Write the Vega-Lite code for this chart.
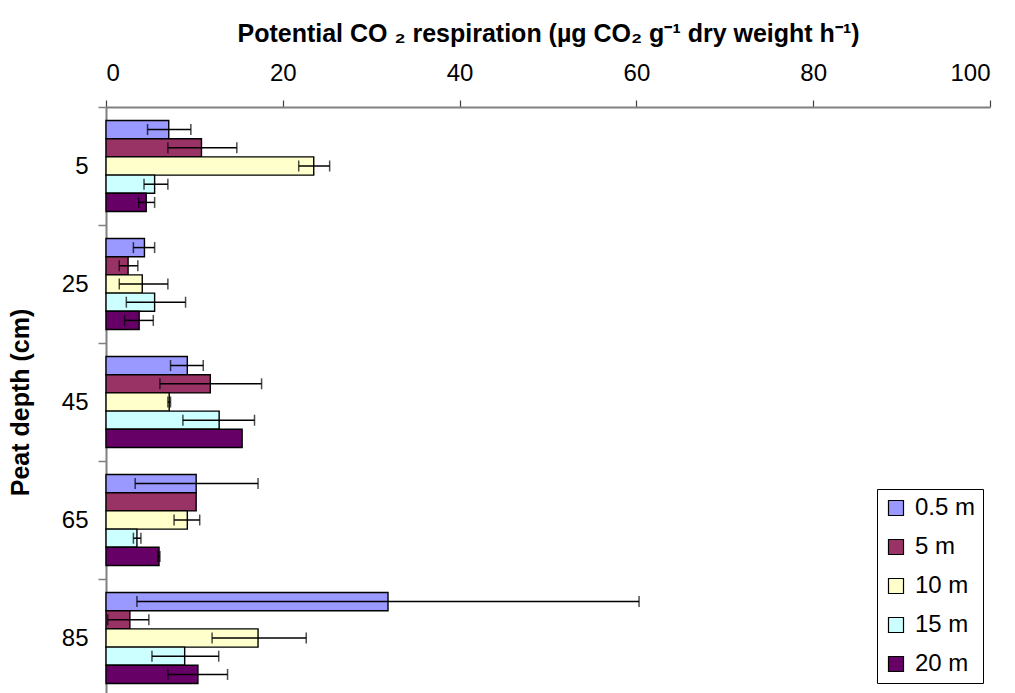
{
  "$schema": "https://vega.github.io/schema/vega-lite/v6.json",
  "autosize": "none",
  "width": 884,
  "height": 590,
  "padding": {"left": 106, "top": 107, "right": 25, "bottom": 0},
  "background": "white",
  "config": {
    "font": "Liberation Sans",
    "view": {"stroke": null},
    "axis": {"grid": false}
  },
  "data": {
    "values": [
      {"depth": "5", "dist": "0.5 m", "value": 7.1, "lo": 4.7, "hi": 9.6},
      {"depth": "5", "dist": "5 m", "value": 10.8, "lo": 7.0, "hi": 14.8},
      {"depth": "5", "dist": "10 m", "value": 23.5, "lo": 21.8, "hi": 25.3},
      {"depth": "5", "dist": "15 m", "value": 5.5, "lo": 4.3, "hi": 7.0},
      {"depth": "5", "dist": "20 m", "value": 4.55, "lo": 3.7, "hi": 5.5},
      {"depth": "25", "dist": "0.5 m", "value": 4.35, "lo": 3.1, "hi": 5.5},
      {"depth": "25", "dist": "5 m", "value": 2.5, "lo": 1.5, "hi": 3.6},
      {"depth": "25", "dist": "10 m", "value": 4.1, "lo": 1.5, "hi": 7.0},
      {"depth": "25", "dist": "15 m", "value": 5.5, "lo": 2.3, "hi": 9.0},
      {"depth": "25", "dist": "20 m", "value": 3.75, "lo": 2.1, "hi": 5.35},
      {"depth": "45", "dist": "0.5 m", "value": 9.2, "lo": 7.3, "hi": 11.0},
      {"depth": "45", "dist": "5 m", "value": 11.8, "lo": 6.1, "hi": 17.6},
      {"depth": "45", "dist": "10 m", "value": 7.15, "lo": 7.0, "hi": 7.3},
      {"depth": "45", "dist": "15 m", "value": 12.8, "lo": 8.7, "hi": 16.8},
      {"depth": "45", "dist": "20 m", "value": 15.4, "lo": null, "hi": null},
      {"depth": "65", "dist": "0.5 m", "value": 10.2, "lo": 3.3, "hi": 17.2},
      {"depth": "65", "dist": "5 m", "value": 10.2, "lo": null, "hi": null},
      {"depth": "65", "dist": "10 m", "value": 9.2, "lo": 7.7, "hi": 10.6},
      {"depth": "65", "dist": "15 m", "value": 3.5, "lo": 3.1, "hi": 3.95},
      {"depth": "65", "dist": "20 m", "value": 6.0, "lo": 5.85, "hi": 6.1},
      {"depth": "85", "dist": "0.5 m", "value": 31.9, "lo": 3.5, "hi": 60.3},
      {"depth": "85", "dist": "5 m", "value": 2.7, "lo": 0.2, "hi": 4.85},
      {"depth": "85", "dist": "10 m", "value": 17.2, "lo": 12.0, "hi": 22.65},
      {"depth": "85", "dist": "15 m", "value": 8.9, "lo": 5.2, "hi": 12.75},
      {"depth": "85", "dist": "20 m", "value": 10.4, "lo": 7.0, "hi": 13.75}
    ]
  },
  "encoding": {
    "y": {
      "field": "depth", "type": "nominal",
      "scale": {"domain": ["5", "25", "45", "65", "85"], "paddingInner": 0, "paddingOuter": 0},
      "axis": {
        "title": "Peat depth (cm)",
        "titleFontSize": 25, "titleFontWeight": "bold", "titleColor": "black",
        "titlePadding": 28,
        "labelFontSize": 24, "labelColor": "black", "labelPadding": 10,
        "tickBand": "extent", "tickSize": 8, "tickColor": "#808080", "tickWidth": 1.5,
        "domainColor": "#808080", "domainWidth": 2,
        "labelAngle": 0
      }
    },
    "yOffset": {
      "field": "dist", "type": "nominal",
      "scale": {"domain": ["0.5 m", "5 m", "10 m", "15 m", "20 m"], "paddingInner": 0, "paddingOuter": 0.74}
    }
  },
  "layer": [
    {
      "mark": {"type": "bar", "stroke": "black", "strokeWidth": 1.4},
      "encoding": {
        "x": {
          "field": "value", "type": "quantitative",
          "scale": {"domain": [0, 100], "nice": false},
          "axis": {
            "orient": "top",
            "values": [0, 20, 40, 60, 80, 100],
            "title": "Potential CO ₂ respiration (µg CO₂ g⁻¹ dry weight h⁻¹)",
            "titleFontSize": 25, "titleFontWeight": "bold", "titleColor": "black",
            "titlePadding": 15,
            "labelFontSize": 24, "labelColor": "black", "labelPadding": 15,
            "tickSize": 7, "tickColor": "#404040", "tickWidth": 1.2,
            "domainColor": "#808080", "domainWidth": 2
          }
        },
        "color": {
          "field": "dist", "type": "nominal",
          "scale": {
            "domain": ["0.5 m", "5 m", "10 m", "15 m", "20 m"],
            "range": ["#9999FF", "#993366", "#FFFFCC", "#CCFFFF", "#660066"]
          },
          "legend": {
            "title": null,
            "orient": "none",
            "legendX": 771,
            "legendY": 382,
            "strokeColor": "black",
            "fillColor": "white",
            "padding": 7,
            "labelFontSize": 24,
            "labelColor": "black",
            "symbolType": "square",
            "symbolSize": 225,
            "symbolStrokeColor": "black",
            "symbolStrokeWidth": 1.2,
            "rowPadding": 15,
            "labelOffset": 7
          }
        }
      }
    },
    {
      "transform": [{"filter": "datum.lo != null"}],
      "mark": {"type": "rule", "color": "black", "strokeWidth": 1.5},
      "encoding": {
        "x": {"field": "lo", "type": "quantitative"},
        "x2": {"field": "hi"}
      }
    },
    {
      "transform": [{"filter": "datum.lo != null"}],
      "mark": {"type": "tick", "color": "black", "thickness": 1.5, "size": 11, "orient": "vertical"},
      "encoding": {
        "x": {"field": "lo", "type": "quantitative"}
      }
    },
    {
      "transform": [{"filter": "datum.hi != null"}],
      "mark": {"type": "tick", "color": "black", "thickness": 1.5, "size": 11, "orient": "vertical"},
      "encoding": {
        "x": {"field": "hi", "type": "quantitative"}
      }
    }
  ]
}
